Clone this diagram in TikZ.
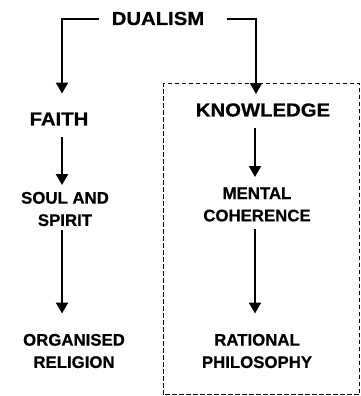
\documentclass[tikz,border=0pt]{standalone}
\usepackage{fontspec}
\setmainfont{Liberation Sans}
\newfontfamily\bigf{Liberation Sans}[FakeStretch=1.08,FakeBold=0.6]
\newfontfamily\smallf{Liberation Sans}[FakeStretch=1.0,FakeBold=0.6]
\usetikzlibrary{arrows.meta}
\begin{document}
\begin{tikzpicture}[x=1pt,y=-1pt,
  bigl/.style={inner sep=0pt,align=center,font=\bigf\bfseries\fontsize{18.8}{22}\selectfont},
  smalll/.style={inner sep=0pt,align=center,font=\smallf\bfseries\fontsize{16.8}{22.3}\selectfont},
  arr/.style={line width=2.3pt,-{Triangle[length=11pt,width=12pt]}},
  dashbox/.style={line width=1.8pt,dash pattern=on 4.5pt off 2.5pt}]
\useasboundingbox (0,0) rectangle (361,396);
% dashed frame
\draw[dashbox] (163.5,394.5) -- (163.5,83.5) -- (359.5,83.5) -- (359.5,394.5) -- cycle;
% labels
\node[bigl] (dualism) at (158,18.5) {DUALISM};
\node[bigl] (faith) at (59,119) {FAITH};
\node[bigl] (knowledge) at (263,110) {KNOWLEDGE};
\node[smalll] (soul) at (65,209) {SOUL AND\\SPIRIT};
\node[smalll] (mental) at (257,204.5) {MENTAL\\COHERENCE};
\node[smalll] (organised) at (74,351) {ORGANISED\\RELIGION};
\node[smalll] (rational) at (257,351) {RATIONAL\\PHILOSOPHY};
% connector end points
\coordinate (dl) at (99,19);
\coordinate (dr) at (227,19);
\coordinate (faithin) at (62,93.5);
\coordinate (knowin) at (256,94);
\coordinate (faithout) at (62,137);
\coordinate (soulin) at (62,185);
\coordinate (soulout) at (62,230);
\coordinate (orgin) at (62,313.5);
\coordinate (knowout) at (255,128);
\coordinate (mentin) at (255,177);
\coordinate (mentout) at (255,229);
\coordinate (ratin) at (255,313.5);
% connectors
\draw[arr] (dl) -| (faithin);
\draw[arr] (dr) -| (knowin);
\draw[arr] (faithout) -- (soulin);
\draw[arr] (soulout) -- (orgin);
\draw[arr] (knowout) -- (mentin);
\draw[arr] (mentout) -- (ratin);
\end{tikzpicture}
\end{document}
